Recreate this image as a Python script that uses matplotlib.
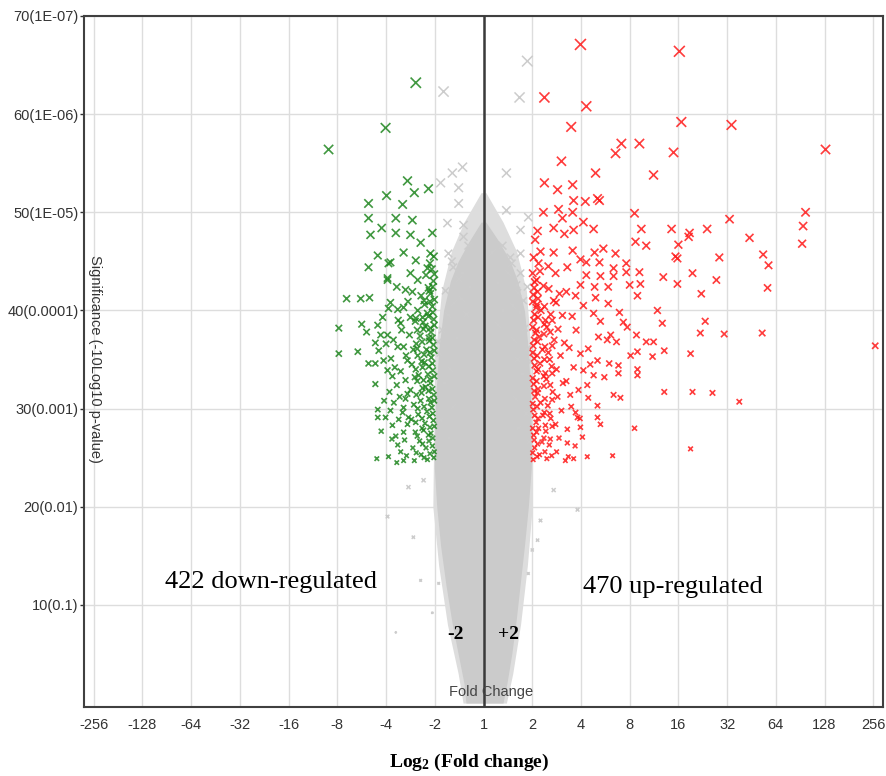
import numpy as np
import matplotlib
matplotlib.use('Agg')
import matplotlib.pyplot as plt

plt.rcParams['mathtext.default'] = 'regular'

# axis labels (fold change shown on a log2 scale)
x_ticks = [-8, -7, -6, -5, -4, -3, -2, -1, 0, 1, 2, 3, 4, 5, 6, 7, 8]
x_labels = ['-256', '-128', '-64', '-32', '-16', '-8', '-4', '-2', '1',
            '2', '4', '8', '16', '32', '64', '128', '256']
y_ticks = [10, 20, 30, 40, 50, 60, 70]
y_labels = ['10(0.1)', '20(0.01)', '30(0.001)', '40(0.0001)',
            '50(1E-05)', '60(1E-06)', '70(1E-07)']

# down-regulated genes: log2 fold change, significance
down_x = [-3.18, -2.01, -1.39, -1.56, -1.42, -1.13, -1.99, -1.66, -2.36, -2.36,
          -2.09, -2.32, -1.80, -1.46, -1.80, -1.50, -1.05, -1.29, -1.64, -2.17,
          -1.91, -2.36, -1.15, -1.97, -1.50, -1.35, -1.09, -1.39,
          -2.81, -2.52, -2.34, -2.97, -2.97, -2.58, -2.50, -2.40, -2.17, -1.97,
          -1.95, -1.78, -1.60, -1.91, -1.95, -1.76, -1.64, -1.50, -2.07, -2.11,
          -1.97, -1.85, -2.22, -2.15, -1.76, -2.36, -2.22, -2.05, -1.97, -2.22,
          -1.87, -1.93, -1.78, -2.17, -2.17, -2.01, -1.91, -1.87, -1.76, -1.70,
          -2.19, -1.95, -1.64, -1.78, -1.64, -1.54, -1.64, -1.56, -1.60, -1.56,
          -1.64, -1.70,
          -1.02, -1.05, -1.08, -1.03, -1.06, -1.02, -1.09, -1.04, -1.07, -1.03,
          -1.08, -1.02, -1.05, -1.09, -1.03, -1.06, -1.02,
          -1.15, -1.18, -1.13, -1.20, -1.16, -1.12, -1.19, -1.14, -1.21, -1.17,
          -1.12, -1.20, -1.15, -1.22, -1.13, -1.18,
          -1.28, -1.31, -1.26, -1.34, -1.29, -1.25, -1.33, -1.27, -1.36, -1.30,
          -1.24, -1.35, -1.28,
          -1.42, -1.45, -1.40, -1.48, -1.43, -1.50, -1.41, -1.47, -1.44, -1.52,
          -1.40, -1.46,
          -1.58, -1.62, -1.56, -1.66, -1.60, -1.70, -1.59, -1.68, -1.55,
          -1.80, -1.74, -1.84, -1.72, -1.82, -1.90, -1.75, -2.00, -2.04, -1.88,
          -2.10]
down_y = [56.4, 58.6, 63.2, 53.2, 52.0, 52.4, 51.7, 50.8, 50.9, 49.4,
          48.4, 47.7, 49.4, 49.2, 47.9, 47.7, 47.9, 46.9, 45.9, 45.6,
          44.9, 44.4, 44.3, 43.3, 43.8, 43.1, 45.8, 45.1,
          41.2, 41.2, 41.3, 38.2, 35.6, 35.8, 38.6, 37.8, 38.5, 43.1,
          44.8, 42.4, 42.1, 40.8, 40.2, 40.1, 40.3, 39.3, 39.3, 37.5,
          37.5, 37.0, 36.7, 35.9, 36.3, 34.6, 34.6, 34.9, 33.9, 32.5,
          33.3, 31.7, 32.4, 29.9, 29.1, 29.1, 29.8, 28.3, 26.3, 25.6,
          24.9, 25.1, 24.7, 24.5, 27.6, 29.1, 30.1, 31.5, 32.9, 34.9,
          36.3, 38.7,
          25.0, 26.2, 27.5, 28.8, 30.1, 31.4, 32.6, 33.9, 35.2, 36.5,
          37.8, 39.1, 40.4, 41.7, 43.0, 44.2, 45.5,
          24.8, 26.0, 27.3, 28.5, 29.7, 31.0, 32.2, 33.5, 34.7, 36.0,
          37.2, 38.4, 39.7, 41.0, 42.3, 43.6,
          25.3, 26.7, 28.0, 29.4, 30.8, 32.1, 33.4, 34.8, 36.1, 37.4,
          38.8, 40.0, 41.5,
          24.7, 26.0, 27.6, 28.9, 30.4, 31.9, 33.2, 34.5, 36.0, 37.5,
          38.9, 41.9,
          25.2, 26.8, 28.4, 29.6, 31.0, 33.8, 35.4, 38.0, 40.9,
          27.2, 28.9, 30.6, 31.2, 34.2, 35.1, 39.0, 36.6, 30.8, 26.9,
          27.7]

# the packed band of down-regulated genes just past -2
down_dense_x = [-1.01, -1.04, -1.01, -1.04, -1.01, -1.05, -1.01, -1.05, -1.01, -1.05,
                -1.01, -1.04, -1.01, -1.04, -1.01,
                -1.10, -1.12, -1.10, -1.11, -1.09, -1.13, -1.10, -1.12, -1.10, -1.11,
                -1.09, -1.13, -1.10, -1.11, -1.10,
                -1.22, -1.25, -1.23, -1.26, -1.22, -1.27, -1.23, -1.25, -1.22, -1.26,
                -1.23, -1.25, -1.21,
                -1.38, -1.36, -1.39, -1.35, -1.38, -1.36, -1.39, -1.35, -1.38, -1.36,
                -1.39]
down_dense_y = [25.6, 27.0, 28.2, 29.5, 30.8, 32.0, 33.3, 34.6, 35.9, 37.2,
                38.5, 39.8, 41.1, 42.4, 43.7,
                25.4, 26.7, 28.1, 29.2, 30.6, 31.8, 33.0, 34.3, 35.7, 36.9,
                38.2, 39.4, 40.9, 42.0, 44.8,
                25.0, 26.4, 27.8, 29.0, 30.2, 31.6, 32.9, 34.2, 35.5, 36.8,
                38.1, 39.3, 40.6,
                25.5, 27.2, 28.6, 30.0, 31.4, 32.8, 34.0, 35.4, 36.6, 38.0,
                39.2]

# up-regulated genes
up_x = [1.99, 4.02, 1.25, 2.11, 4.06, 5.09, 1.80, 2.83, 3.20, 2.71,
        3.90, 7.02, 1.60, 2.30, 3.49, 1.25, 1.52, 1.83, 1.85, 2.09,
        2.34, 2.38, 1.23, 1.54, 1.83, 3.10, 6.61, 1.62, 5.05, 1.11,
        1.44, 1.66, 1.85, 2.05, 2.26, 3.24, 3.86, 4.23, 4.59, 6.56,
        3.12, 3.34, 4.21, 5.46, 6.54, 4.00, 1.17, 1.44, 1.83, 2.28,
        2.46, 2.71, 3.94, 4.84, 5.74, 3.98, 1.13, 1.33, 1.72, 1.99,
        2.11, 2.38, 2.93, 5.85, 2.67, 1.48, 2.11, 2.40, 2.67, 2.93,
        3.20, 4.29, 3.69, 4.78, 1.09, 2.28, 2.56, 3.00, 3.22, 3.98,
        5.83, 4.47, 1.56, 1.89, 3.16,
        3.57, 3.67, 4.55, 4.45, 4.94, 5.72, 8.04, 4.25, 3.71, 3.47,
        3.16, 3.02, 3.34, 3.49, 3.14, 2.95, 2.87, 2.79, 3.16, 3.16,
        2.77, 2.77, 3.71, 4.29, 4.70, 5.25, 2.81, 2.67, 3.10, 4.25,
        2.65, 2.13, 2.40, 2.34, 1.99, 1.93, 2.03, 1.74, 2.34, 2.15,
        1.78, 2.61, 2.73, 2.54, 2.36, 2.48, 2.26, 2.13, 2.58, 2.34,
        2.19, 2.05, 1.99, 2.15, 2.40, 2.26, 2.05, 2.56, 2.30, 1.72,
        1.89, 1.99, 1.70,
        1.02, 1.05, 1.03, 1.08, 1.02, 1.06, 1.03, 1.09, 1.04, 1.02,
        1.07, 1.03, 1.08, 1.02, 1.05, 1.03, 1.06,
        1.15, 1.20, 1.13, 1.22, 1.17, 1.12, 1.24, 1.16, 1.21, 1.14,
        1.25, 1.18, 1.12, 1.23, 1.16,
        1.30, 1.35, 1.28, 1.38, 1.32, 1.42, 1.29, 1.40, 1.33, 1.45,
        1.30, 1.38, 1.44, 1.34,
        1.50, 1.55, 1.48, 1.60, 1.52, 1.63, 1.50, 1.58, 1.66, 1.53,
        1.62, 1.49,
        1.72, 1.80, 1.70, 1.85, 1.76, 1.90, 1.82, 1.95, 1.88, 1.68,
        1.98, 1.85]
up_y = [67.1, 66.4, 61.7, 60.8, 59.2, 58.9, 58.7, 57.0, 57.0, 56.0,
        56.1, 56.4, 55.2, 54.0, 53.8, 53.0, 52.3, 52.8, 51.2, 51.1,
        51.4, 51.2, 50.0, 50.3, 50.0, 49.9, 50.0, 49.4, 49.3, 48.1,
        48.4, 47.8, 48.2, 49.0, 48.3, 48.3, 48.3, 47.9, 48.3, 48.6,
        47.0, 46.6, 47.5, 47.4, 46.8, 46.7, 46.0, 45.9, 46.1, 45.9,
        46.3, 45.8, 45.5, 45.4, 45.7, 45.3, 44.8, 44.5, 44.4, 45.2,
        44.9, 44.9, 44.8, 44.6, 44.3, 43.8, 43.6, 43.5, 43.5, 43.9,
        43.9, 43.8, 43.4, 43.1, 43.1, 42.4, 42.4, 42.6, 42.7, 42.7,
        42.3, 41.7, 41.7, 41.5, 41.5,
        40.0, 38.7, 38.9, 37.7, 37.6, 37.7, 36.4, 35.6, 35.9, 35.3,
        35.8, 35.4, 36.8, 36.8, 37.5, 38.3, 38.8, 39.8, 34.0, 33.4,
        34.4, 33.6, 31.7, 31.7, 31.6, 30.7, 31.1, 31.4, 28.0, 25.9,
        25.2, 25.1, 28.4, 29.1, 28.1, 29.1, 27.1, 25.1, 30.3, 31.1,
        31.4, 37.5, 36.8, 37.0, 37.3, 33.2, 33.4, 32.4, 34.6, 34.9,
        34.5, 33.9, 35.6, 36.1, 38.9, 39.7, 40.5, 40.7, 41.3, 26.5,
        29.6, 42.6, 41.9,
        24.8, 26.0, 27.3, 28.6, 29.9, 31.2, 32.5, 33.8, 35.1, 36.4,
        37.7, 39.0, 40.3, 41.6, 42.9, 45.4, 47.2,
        25.3, 26.6, 28.0, 29.3, 30.6, 32.0, 33.3, 34.6, 36.0, 37.3,
        38.6, 40.0, 41.2, 42.5, 44.0,
        24.9, 26.3, 27.7, 29.0, 30.3, 31.7, 33.0, 34.3, 35.7, 37.0,
        38.3, 39.6, 41.0, 42.2,
        25.6, 27.0, 28.4, 29.8, 31.2, 32.6, 34.0, 35.4, 36.7, 38.1,
        39.5, 40.8,
        27.9, 30.2, 32.8, 34.2, 36.2, 38.0, 39.4, 31.9, 26.2, 24.7,
        29.0, 24.9]

# the packed band of up-regulated genes just past +2
up_dense_x = [1.01, 1.04, 1.01, 1.05, 1.01, 1.04, 1.01, 1.05, 1.01, 1.04,
              1.01, 1.05, 1.01, 1.04, 1.01,
              1.10, 1.11, 1.09, 1.12, 1.10, 1.11, 1.09, 1.12, 1.10, 1.11,
              1.09, 1.12, 1.10, 1.11,
              1.26, 1.24, 1.27, 1.25, 1.26, 1.24, 1.27, 1.25, 1.26, 1.24,
              1.27, 1.25,
              1.40, 1.37, 1.41, 1.36, 1.41, 1.37, 1.41, 1.36, 1.41, 1.37,
              1.41]
up_dense_y = [25.5, 26.8, 28.0, 29.3, 30.5, 31.8, 33.1, 34.4, 35.7, 37.0,
              38.3, 39.6, 40.9, 42.3, 43.8,
              25.1, 26.4, 27.6, 29.0, 30.2, 31.6, 32.8, 34.0, 35.4, 36.8,
              38.0, 39.3, 40.6, 41.9,
              25.6, 27.0, 28.3, 29.6, 31.0, 32.3, 33.6, 35.0, 36.3, 37.6,
              39.0, 40.4,
              25.2, 26.9, 28.2, 29.5, 30.9, 32.4, 33.6, 35.0, 36.4, 37.8,
              39.0]

# non-significant genes: outline of the packed core (significance, left / right log2 FC)
core_y = [0, 2, 5, 8, 12, 16, 20, 24, 28, 32, 36, 40, 43, 45, 47, 49]
core_left = [-0.36, -0.40, -0.52, -0.64, -0.77, -0.88, -0.96, -1.01, -1.00, -0.97,
             -0.92, -0.82, -0.68, -0.52, -0.30, -0.05]
core_right = [0.40, 0.48, 0.58, 0.66, 0.75, 0.84, 0.92, 0.98, 0.98, 0.96,
              0.92, 0.84, 0.70, 0.55, 0.32, 0.05]
# looser halo around the core
halo_y = [0, 3, 8, 14, 20, 24, 30, 36, 42, 46, 49, 52]
halo_left = [-0.42, -0.52, -0.74, -0.92, -1.04, -1.03, -1.01, -0.98, -0.86, -0.66, -0.40, -0.05]
halo_right = [0.47, 0.60, 0.76, 0.90, 1.00, 1.00, 0.99, 0.97, 0.88, 0.68, 0.40, 0.05]

# non-significant genes scattered around the core
gray_x = [0.90, 0.74, -0.82, -0.43, -0.64, -0.88, -0.51, -0.51, 0.47, 0.47,
          -0.74, -0.41, -0.41, -0.31, 0.18, 0.39, 0.76, 0.92, 0.55, 0.76,
          -0.72, -0.62, -0.43, -0.27, 0.29, 0.51, 0.76, 0.90, 0.70,
          -1.97, -1.44, -1.29, -1.80, -1.05, -0.92, -1.54, -1.23, 1.44, 1.17,
          1.00, 1.93, 0.92, 1.11,
          0.60, 0.75, 0.85, 0.62, 0.90, 0.70, 0.80, 0.95, 0.66, 0.88,
          0.72, 0.93, 0.58, 0.82, 0.97, 0.68,
          -0.60, -0.72, -0.85, -0.55, -0.90, -0.68, -0.80, -0.95, -0.62, -0.88,
          -0.70, -0.97, -0.50, -0.78, -0.93, -0.65, -0.45, -0.35, 0.40, 0.30]
gray_y = [65.4, 61.7, 62.3, 54.6, 54.0, 53.0, 52.5, 50.9, 54.0, 50.2,
          48.9, 48.7, 47.5, 46.6, 45.9, 46.6, 48.2, 49.5, 45.4, 45.8,
          45.8, 44.4, 43.8, 42.4, 42.8, 43.8, 43.8, 42.4, 41.8,
          19.0, 16.9, 12.5, 7.2, 9.2, 12.2, 22.0, 22.7, 21.7, 18.6,
          15.6, 19.7, 13.2, 16.6,
          40.5, 39.8, 38.2, 37.0, 36.1, 35.0, 33.5, 32.0, 31.0, 29.5,
          28.0, 26.6, 44.8, 41.0, 34.8, 42.6,
          40.8, 39.5, 38.0, 37.2, 35.6, 34.0, 32.6, 31.0, 30.2, 28.8,
          27.0, 25.8, 43.2, 42.0, 36.8, 45.0, 41.2, 39.6, 40.0, 38.5]


def marker_size(y):
    # crosses grow with significance
    return (2.7 + 0.11 * (np.asarray(y) - 20)) ** 2


fig = plt.figure(figsize=(8.87, 7.76), dpi=100)
ax = fig.add_axes([0.0947, 0.0889, 0.9008, 0.8905])

ax.fill_betweenx(halo_y, halo_left, halo_right, color='#dddddd', lw=0, zorder=2)
ax.fill_betweenx(core_y, core_left, core_right, color='#cbcbcb', lw=0, zorder=2)
ax.scatter(gray_x, gray_y, s=marker_size(gray_y), marker='x', c='#cccccc',
           linewidths=1.1, zorder=2)

dx = down_x + down_dense_x
dy = down_y + down_dense_y
ux = up_x + up_dense_x
uy = up_y + up_dense_y
ax.scatter(dx, dy, s=marker_size(dy), marker='x', c='#1f861f',
           linewidths=1.2, alpha=0.85, zorder=3)
ax.scatter(ux, uy, s=marker_size(uy), marker='x', c='#ff1a1a',
           linewidths=1.2, alpha=0.85, zorder=3)

ax.axvline(0, color='#3a3a3a', lw=1.8, zorder=4)

ax.set_xlim(-8.2, 8.2)
ax.set_ylim(-0.4, 70)
ax.set_xticks(x_ticks)
ax.set_xticklabels(x_labels, fontsize=10.5, color='#333333', family='Liberation Sans')
ax.set_yticks(y_ticks)
ax.set_yticklabels(y_labels, fontsize=10.5, color='#333333', family='Liberation Sans')
ax.tick_params(axis='x', length=0, pad=8)
ax.tick_params(axis='y', length=3, width=1, color='#333333', pad=1)
ax.grid(True, color='#dddddd', lw=1, zorder=0)
ax.set_axisbelow(True)
for sp in ax.spines.values():
    sp.set_color('#404040')
    sp.set_linewidth(1.5)

ax.text(0.014, 0.503, 'Significance (-10Log10 p-value)', transform=ax.transAxes,
        rotation=270, ha='center', va='center', fontsize=10.5, color='#333333',
        family='Liberation Sans')
ax.text(-4.37, 12.3, '422 down-regulated', ha='center', va='center',
        fontsize=19, family='Liberation Serif')
ax.text(3.88, 11.8, '470 up-regulated', ha='center', va='center',
        fontsize=19, family='Liberation Serif')
ax.text(-0.57, 7.0, '-2', ha='center', va='center', fontsize=14,
        fontweight='bold', family='Liberation Serif', zorder=5)
ax.text(0.51, 7.0, '+2', ha='center', va='center', fontsize=14,
        fontweight='bold', family='Liberation Serif', zorder=5)
ax.text(0.16, 1.1, 'Fold Change', ha='center', va='center', fontsize=10.5,
        color='#444444', family='Liberation Sans', zorder=5)

fig.text(0.529, 0.004, 'Log$_2$ (Fold change)', ha='center', va='bottom',
         fontsize=14, fontweight='bold', family='Liberation Serif')

fig.savefig('out.png', dpi=100)
